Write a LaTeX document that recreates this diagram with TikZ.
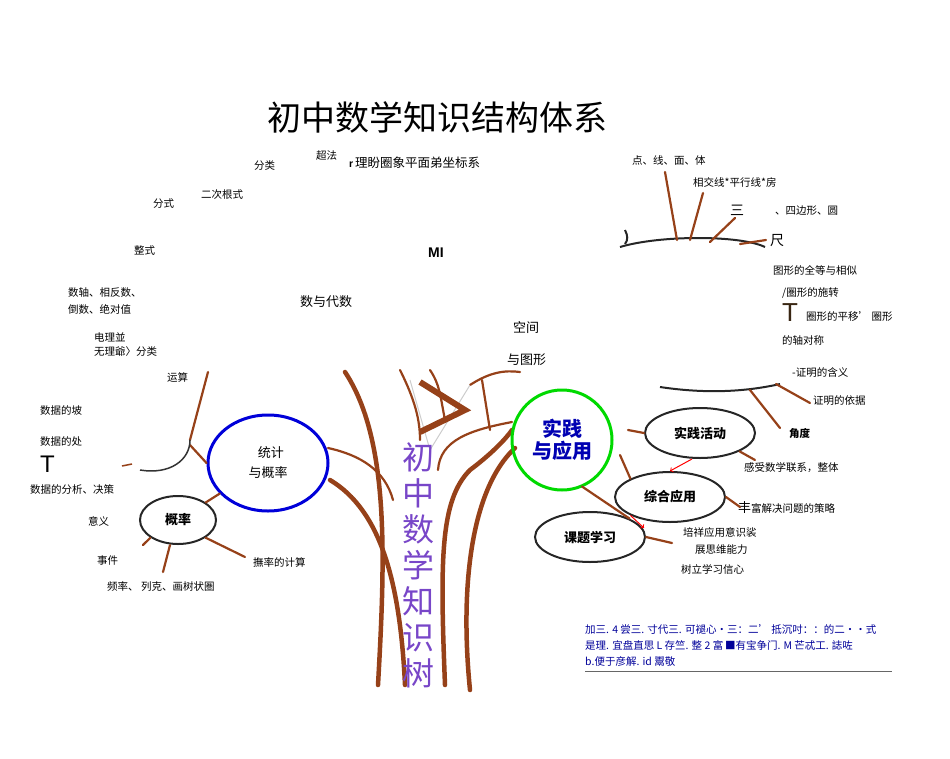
\documentclass[tikz,border=0pt]{standalone}
\usetikzlibrary{shapes.geometric}
\usepackage{fontspec}
\setmainfont{Noto Sans CJK SC}
\newfontfamily\lat{Liberation Sans}
\definecolor{bark}{RGB}{150,65,25}
\definecolor{vio}{RGB}{120,70,200}
\begin{document}
\begin{tikzpicture}[x=1pt,y=-1pt,
 lbl/.style={font=\fontsize{10.5}{12}\selectfont,inner sep=0pt,anchor=west},
 br/.style={draw=bark,line width=2.2pt,line cap=round},
 brt/.style={draw=bark,line width=4.5pt,line cap=round},
 ell/.style={draw=black!85,line width=2pt,ellipse},
 bold/.style={font=\fontsize{13}{15}\selectfont\bfseries}]
\useasboundingbox (0,0) rectangle (950,758);
% title
\node (title) at (437,117) {\fontsize{34}{38}\selectfont 初中数学知识结构体系};
% left top labels
\node[lbl] (a1) at (254,166) {分类};
\node[lbl] (a2) at (316,156) {超法};
\node[lbl] (a3) at (349,163) {\lat\bfseries r\,\normalfont\rmfamily\fontsize{12.5}{14}\selectfont 理盼圈象平面弟坐标系};
\node[lbl] (a4) at (201,195) {二次根式};
\node[lbl] (a5) at (153,204) {分式};
\node[lbl] (a6) at (134,251) {整式};
\node[lbl] (a7) at (428,253) {\lat\bfseries\fontsize{14}{16}\selectfont MI};
\node[lbl] (a8) at (68,293) {数轴、相反数、};
\node[lbl] (a9) at (68,309) {倒数、绝对值};
\node[lbl] (a10) at (300,302) {\fontsize{13}{15}\selectfont 数与代数};
\node[lbl] (a11) at (94,337) {电理並};
\node[lbl] (a12) at (94,352) {无理爺〉分类};
\node[lbl] (a13) at (513,328) {\fontsize{13}{15}\selectfont 空间};
\node[lbl] (a14) at (507,360) {\fontsize{13}{15}\selectfont 与图形};
\node[lbl] (a15) at (167,377) {运算};
% left stats labels
\node[lbl] (s1) at (40,410) {数据的坡};
\node[lbl] (s2) at (40,441) {数据的处};
\node[lbl] (s3) at (40,464) {\lat\fontsize{24}{26}\selectfont T};
\node[lbl] (s4) at (30,489) {数据的分析、决策};
\node[lbl] (s5) at (88,521) {意义};
\node[lbl] (s6) at (97,561) {事件};
\node[lbl] (s7) at (107,586) {频率、\ 列克、画树状圏};
\node[lbl] (s8) at (253,562) {撫率的计算};
% right labels
\node[lbl] (r1) at (632,160) {点、线、面、体};
\node[lbl] (r2) at (693,182) {相交线*平行线*\textit{房}};
\node[lbl] (r3) at (730,210) {\fontsize{14}{16}\selectfont 三};
\node[lbl] (r4) at (775,211) {、四边形、圆};
\node[lbl] (r5) at (770,241) {\fontsize{14}{16}\selectfont 尺};
\node[lbl] (r6) at (773,270) {图形的全等与相似};
\node[lbl] (r7) at (782,293) {/圏形的施转};
\node[lbl] (r8) at (782,313) {\lat\fontsize{26}{28}\selectfont\color{black!70!brown}T};
\node[lbl] (r9) at (806,317) {圈形的平移' 圏形};
\node[lbl] (r10) at (782,340) {的轴对称};
\node[lbl] (r11) at (792,373) {-证明的含义};
\node[lbl] (r12) at (813,401) {证明的依据};
\node[lbl] (r13) at (789,434) {\bfseries 角度};
\node[lbl] (r14) at (744,468) {感受数学联系，整体};
\node[lbl] (r15) at (738,508) {\fontsize{13}{14}\selectfont 丰\fontsize{10.5}{12}\selectfont 富解决问题的策略};
\node[lbl] (r16) at (683,532) {培祥应用意识裟};
\node[lbl] (r17) at (695,550) {展思维能力};
\node[lbl] (r18) at (681,569) {树立学习信心};
% tree trunk
\draw[brt] (345,372) .. controls (390,440) and (385,560) .. (378,685);
\draw[brt] (330,480) .. controls (380,510) and (400,580) .. (405,685);
\draw[br] (328,448) .. controls (360,455) and (385,470) .. (393,500);
\draw[brt] (445,685) .. controls (440,560) and (440,500) .. (470,470) .. controls (490,455) and (505,440) .. (512,430);
\draw[brt] (470,690) .. controls (460,590) and (470,490) .. (515,448);
\draw[br] (438,470) .. controls (440,440) and (470,430) .. (512,422);
\draw[br] (400,370) .. controls (415,400) and (420,420) .. (420,440);
\draw[br] (430,370) .. controls (440,385) and (440,395) .. (445,420);
\draw[br] (470,385) .. controls (490,372) and (505,370) .. (520,372);
\draw[br] (482,380) -- (490,430);
\draw[line width=1pt,black!20] (410,380) -- (430,450) -- (470,385);
% chevron
\draw[bark,line width=6pt] (420,382) -- (465,410) -- (420,432);
% stats circle
\node[draw=blue!85!black,line width=3pt,ellipse,minimum width=120pt,minimum height=96pt,align=center,font=\fontsize{13}{20}\selectfont] (stat) at (268,463) {\ \ 统计\\与概率};
\node[ell,minimum width=76pt,minimum height=48pt,font=\fontsize{13}{15}\selectfont\bfseries] (gl) at (178,520) {概率};
\draw[br] (gl) -- (stat);
\draw[br] (gl.south east) -- (245,557);
\draw[br] (gl.south) ++(-8,0) -- (163,572);
\draw[br] (gl.south west) -- (143,545);
\draw[br] (stat.west) -- (190,445);
\draw[br] (190,440) -- (208,372);
\draw[black!80,line width=1.5pt] (140,470) .. controls (170,475) and (190,460) .. (190,440);
\draw[bark,line width=1.5pt] (122,466) -- (132,464);
% practice circle
\node[draw=green!85!black,line width=3pt,circle,minimum size=100pt,align=center,text=blue!70!black,font=\fontsize{20}{22}\selectfont\bfseries] (prac) at (562,440) {实践\\与应用};
\node[ell,minimum width=110pt,minimum height=50pt,bold] (e1) at (700,433) {实践活动};
\node[ell,minimum width=110pt,minimum height=50pt,bold] (e2) at (670,497) {综合应用};
\node[ell,minimum width=110pt,minimum height=50pt,bold] (e3) at (590,537) {课题学习};
\draw[br] (628,430) -- (e1.west);
\draw[br] (620,455) -- (e2.north west);
\draw[br] (prac.south) ++(20,-5) -- (e3.north east);
\draw[br] (e1.south east) -- (755,460);
\draw[br] (e2.east) -- (740,507);
\draw[br] (e3.east) -- (672,543);
\draw[->,red,line width=1pt] (e1.south) ++(-8,0) -- (e2.north);
\draw[->,red,line width=1pt] (e2.south west) -- (644,528);
% space arcs
\draw[black!85,line width=2pt] (620,247) .. controls (660,235) and (740,235) .. (765,247);
\draw[black!85,line width=2pt] (625,230) .. controls (628,236) and (628,240) .. (625,244);
\draw[black!85,line width=2pt] (660,387) .. controls (700,393) and (740,393) .. (780,384);
\draw[br] (677,240) -- (665,172);
\draw[br] (690,240) -- (703,193);
\draw[br] (710,242) -- (735,218);
\draw[br] (740,244) -- (766,240);
\draw[br] (776,384) -- (810,403);
\draw[br] (750,390) -- (780,428);
% bottom text
\node[lbl,anchor=north west,align=left,text=blue!60!black,font=\fontsize{10.5}{16}\selectfont] (note) at (585,624) {加三. 4 尝三. 寸代三. 可褪心•三：二' 抵沉吋：：的二••式\\是理. 宜盘直思 L \textit{存竺}. 整 2 富\,■有宝争门. M 芒忒工. 誌咗\\b.便于彦解. \textit{id 鬻敬}};
\draw[black!60,line width=0.6pt] (585,671) -- (892,671);
% vertical title
\node[inner sep=0pt,align=center,text=vio,font=\fontsize{32}{36}\selectfont] (vt) at (418,565) {初\\中\\数\\学\\知\\识\\树};
\end{tikzpicture}
\end{document}
